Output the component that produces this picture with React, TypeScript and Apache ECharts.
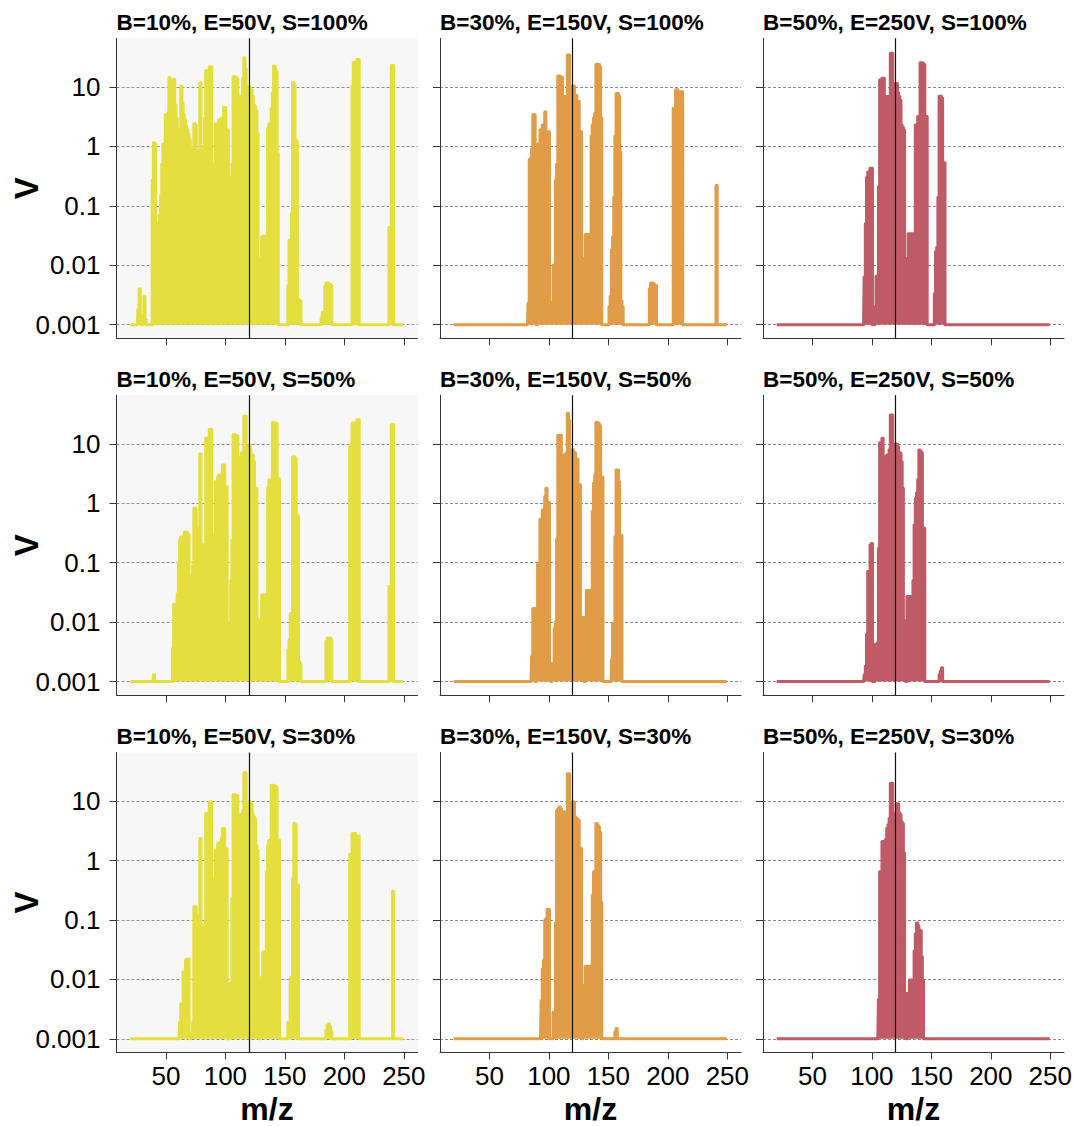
import React, { useEffect, useRef } from "react";
import * as echarts from "echarts";

// ---------- data ----------
const MZ_START = 20;
const MZ_END = 250;
const BASELINE = 0.001;
const MARKER_MZ = 120;
const X_TICK_MIN = 50;
const X_TICK_MAX = 250;
const X_TICK_STEP = 50;
const Y_TICK_LABELS = ["0.001", "0.01", "0.1", "1", "10"];
const COL_LABELS = ["B=10%, E=50V", "B=30%, E=150V", "B=50%, E=250V"];
const ROW_LABELS = ["S=100%", "S=50%", "S=30%"];
const COLORS = ["#e4df3f", "#e09c47", "#be5b67"];

// peaks: [m/z, V]; every other m/z sits on the 0.001 floor
const B10_S100: [number, number][] = [
  [27, 0.0018], [28, 0.004], [29, 0.0012], [31, 0.0014], [32, 0.003], [33, 0.0012],
  [39, 0.27], [40, 1.15], [41, 1.1], [42, 0.012], [43, 0.035], [44, 0.05], [45, 0.07], [46, 0.15],
  [47, 0.5], [48, 1.1], [49, 0.7], [50, 3.4], [51, 3.4], [52, 3.7], [53, 14.5], [54, 13.5], [55, 5],
  [56, 3.4], [57, 13.5], [58, 5], [59, 3], [60, 2], [61, 1.5], [62, 0.4], [63, 10.4], [64, 5.3],
  [65, 3.4], [66, 2.8], [67, 2.2], [68, 1.9], [69, 1.6], [70, 1.3], [71, 0.18], [72, 0.05], [73, 0.9],
  [74, 2.4], [75, 2.3], [76, 0.85], [77, 0.5], [78, 0.37], [79, 11.8], [80, 0.9], [81, 0.35], [82, 0.2],
  [83, 3], [84, 19], [85, 4], [86, 3], [87, 22], [88, 22], [89, 0.35], [90, 0.01], [91, 0.5], [92, 2.4],
  [93, 1.65], [94, 1.65], [95, 2.8], [96, 2.8], [97, 3], [98, 3], [99, 4.5], [100, 4.5], [101, 1.9],
  [102, 1.9], [103, 0.018], [104, 0.1], [105, 0.3], [106, 0.5], [107, 14.9], [108, 14.9], [109, 14],
  [110, 14], [111, 6], [112, 6], [113, 6.9], [114, 6.9], [115, 14], [116, 31], [117, 20], [118, 6.9],
  [119, 6], [120, 10], [121, 9], [122, 9], [123, 7], [124, 5], [125, 4.7], [126, 4], [127, 1.65],
  [128, 0.013], [129, 0.01], [130, 0.012], [131, 0.03], [132, 0.031], [133, 0.031], [134, 0.03],
  [135, 0.03], [136, 2.0], [137, 2.4], [138, 2.4], [139, 4.4], [140, 8], [141, 22.6], [142, 22],
  [143, 18], [144, 0.76],
  [153, 0.0045], [154, 0.026], [155, 0.027], [156, 0.074], [157, 11.8], [158, 11], [159, 1.3],
  [160, 1.2], [161, 0.0027], [162, 0.0026], [163, 0.0025],
  [181, 0.0013], [182, 0.0016], [183, 0.0016], [184, 0.0044], [185, 0.005], [186, 0.005],
  [187, 0.0049], [188, 0.0048], [189, 0.0045],
  [207, 10.4], [208, 26], [209, 25], [210, 19], [211, 29], [212, 29],
  [238, 0.043], [239, 0.043], [240, 23], [241, 23],
];

const B30_S100: [number, number][] = [
  [83, 0.0023], [84, 0.6], [85, 0.63], [86, 0.92], [87, 3.4], [88, 3.4], [89, 0.0025],
  [91, 1.1], [92, 1.1], [93, 1.9], [94, 1.9], [95, 2.3], [96, 2.3], [97, 3.8], [98, 1.77], [99, 1.77],
  [100, 1.77], [101, 0.002], [102, 0.002], [103, 0.0024], [104, 0.01], [105, 0.01], [106, 0.27],
  [107, 0.5], [108, 15.3], [109, 15.3], [110, 14.6], [111, 14.6], [112, 6], [113, 6.9], [114, 6.9],
  [115, 6.9], [116, 34.6], [117, 34.6], [118, 6.9], [119, 6.9], [120, 10.4], [121, 10.4], [122, 7.3],
  [123, 7.3], [124, 5.7], [125, 5.7], [126, 1.77], [127, 1.77], [128, 0.013], [129, 0.002],
  [130, 0.012], [131, 0.033], [132, 0.033], [133, 0.033], [134, 0.033], [135, 0.033], [136, 1.5],
  [137, 2.3], [138, 3], [139, 3.6], [140, 24], [141, 24.4], [142, 24], [143, 22], [144, 3],
  [151, 0.002], [152, 0.003], [153, 0.018], [154, 0.03], [155, 0.14], [156, 1.5], [157, 7.8],
  [158, 7.8], [159, 7], [160, 0.81], [161, 0.0025], [162, 0.002],
  [185, 0.004], [186, 0.005], [187, 0.005], [188, 0.0049], [189, 0.0047], [190, 0.0045],
  [205, 4.4], [206, 4.4], [207, 9], [208, 9], [209, 5.7], [210, 5.7], [211, 8.3], [212, 8.3],
  [241, 0.22],
];

const B50_S100: [number, number][] = [
  [94, 0.0063], [95, 0.05], [96, 0.3], [97, 0.37], [98, 0.37], [99, 0.43], [100, 0.43],
  [103, 0.002], [104, 0.0065], [105, 0.0065], [106, 0.21], [107, 13.1], [108, 13.1], [109, 14],
  [110, 14], [111, 3.4], [112, 6.9], [113, 6.9], [114, 6.9], [115, 6.4], [116, 36.9], [117, 36.9],
  [118, 8.3], [119, 8.3], [120, 11.5], [121, 11.5], [122, 8], [123, 6.9], [124, 6], [125, 2.3],
  [126, 2.1], [127, 1.9], [128, 0.013], [129, 0.013], [130, 0.002], [131, 0.034], [132, 0.034],
  [133, 0.034], [134, 0.034], [135, 0.034], [136, 0.034], [137, 2.3], [138, 2.3], [139, 3.2],
  [140, 3.2], [141, 25.7], [142, 25.7], [143, 25], [144, 24], [145, 3.2], [146, 3.2],
  [153, 0.0033], [154, 0.017], [155, 0.02], [156, 0.14], [157, 7], [158, 7], [159, 6.5],
  [160, 0.53], [161, 0.53],
];

const B10_S50: [number, number][] = [
  [40, 0.0013],
  [56, 0.0036], [57, 0.02], [58, 0.02], [59, 0.012], [60, 0.03], [61, 0.1], [62, 0.24], [63, 0.27],
  [64, 0.27], [65, 0.25], [66, 0.33], [67, 0.33], [68, 0.32], [69, 0.3], [70, 0.05], [71, 0.03],
  [72, 0.06], [73, 0.09], [74, 0.83], [75, 0.83], [76, 0.3], [77, 0.38], [78, 0.38], [79, 6.8],
  [80, 0.2], [81, 0.2], [82, 0.2], [83, 0.2], [84, 12.4], [85, 12.4], [86, 1.0], [87, 17.7],
  [88, 17.7], [89, 0.1], [90, 0.0069], [91, 0.3], [92, 2.3], [93, 2.3], [94, 2.8], [95, 3.0],
  [96, 3.0], [97, 3.0], [98, 4.4], [99, 4.4], [100, 1.9], [101, 1.9], [102, 0.0012], [103, 0.002],
  [104, 0.0095], [105, 0.05], [106, 0.24], [107, 14.2], [108, 14.2], [109, 13.6], [110, 13.6],
  [111, 5.7], [112, 5.7], [113, 6], [114, 7], [115, 7], [116, 29.6], [117, 29.6], [118, 6],
  [119, 6], [120, 9.25], [121, 9], [122, 6.5], [123, 6.5], [124, 5], [125, 1.8], [126, 1.8],
  [127, 0.01], [128, 0.011], [129, 0.011], [130, 0.011], [131, 0.029], [132, 0.029], [133, 0.029],
  [134, 0.029], [135, 0.029], [136, 1.8], [137, 2.5], [138, 2.5], [139, 2.5], [140, 22.9],
  [141, 22.9], [142, 22], [143, 22], [144, 2.6], [145, 2.6],
  [153, 0.0034], [154, 0.005], [155, 0.014], [156, 0.014], [157, 6.1], [158, 6.1], [159, 5.5],
  [160, 0.64], [161, 0.6], [162, 0.0022], [163, 0.002],
  [185, 0.0047], [186, 0.0054], [187, 0.0054], [188, 0.0054], [189, 0.005],
  [205, 9.6], [206, 9.6], [207, 22.5], [208, 22.5], [209, 16], [210, 16], [211, 25.4], [212, 25.4],
  [238, 0.04], [239, 0.04], [240, 21.4], [241, 21.4],
];

const B30_S50: [number, number][] = [
  [86, 0.0027], [87, 0.017], [88, 0.017], [90, 0.003], [91, 0.095], [92, 0.1], [93, 0.54],
  [94, 0.54], [95, 0.77], [96, 0.8], [97, 1.3], [98, 1.8], [99, 1.03], [100, 1.03], [101, 0.002],
  [103, 0.002], [104, 0.0018], [105, 0.0078], [106, 0.01], [107, 0.25], [108, 14], [109, 14],
  [110, 14], [111, 4.5], [112, 6.5], [113, 6.5], [114, 6.5], [115, 7], [116, 32.8], [117, 25],
  [118, 7.7], [119, 7.5], [120, 8], [121, 7.4], [122, 7], [123, 5.7], [124, 5.5], [125, 2.05],
  [126, 2.05], [127, 0.002], [128, 0.005], [129, 0.012], [131, 0.012], [132, 0.034], [133, 0.034],
  [134, 0.034], [135, 0.034], [136, 0.034], [137, 0.73], [138, 2.18], [139, 3], [140, 23],
  [141, 23], [142, 22], [143, 20], [144, 2.75], [145, 2.75],
  [153, 0.0023], [154, 0.0095], [155, 0.0095], [156, 0.275], [157, 3.65], [158, 3.65], [159, 2.3],
  [160, 0.29], [161, 0.29],
];

const B50_S50: [number, number][] = [
  [94, 0.0013], [95, 0.0018], [96, 0.0063], [97, 0.071], [98, 0.071], [99, 0.2], [100, 0.21],
  [103, 0.0042], [104, 0.0042], [105, 0.0045], [106, 0.175], [107, 10.5], [108, 10.5], [109, 12.4],
  [110, 6.1], [111, 3.2], [112, 5], [113, 6.5], [114, 6.5], [115, 8], [116, 30.7], [117, 30.7],
  [118, 6.5], [119, 6.5], [120, 10], [121, 10], [122, 9], [123, 7.1], [124, 7], [125, 5], [126, 1.8],
  [127, 0.0106], [128, 0.0106], [130, 0.027], [131, 0.027], [132, 0.027], [133, 0.027],
  [134, 0.027], [135, 0.05], [136, 0.43], [137, 1.2], [138, 1.5], [139, 2.5], [140, 7.9], [141, 7.5],
  [142, 7], [143, 0.38], [144, 0.38],
  [157, 0.0013], [158, 0.0015], [159, 0.0017],
];

const B10_S30: [number, number][] = [
  [62, 0.0019], [63, 0.0039], [64, 0.0039], [65, 0.0135], [66, 0.0135], [67, 0.021], [68, 0.022],
  [69, 0.022], [71, 0.0012], [72, 0.0012], [73, 0.0019], [74, 0.167], [75, 0.167], [76, 0.113],
  [77, 0.12], [78, 0.1], [79, 2.36], [80, 0.082], [81, 0.082], [82, 0.082], [83, 0.082], [84, 6.2],
  [85, 6.2], [86, 0.5], [87, 9.7], [88, 9.7], [89, 0.05], [90, 0.0042], [91, 0.5], [92, 1.5],
  [93, 1.5], [94, 1.94], [95, 2], [96, 2], [97, 2.4], [98, 3.47], [99, 3.47], [100, 1.58],
  [101, 1.58], [104, 0.0085], [105, 0.0085], [106, 0.23], [107, 12.9], [108, 12.9], [109, 12.5],
  [110, 12.5], [111, 5.8], [112, 5.8], [113, 6], [114, 6], [115, 7], [116, 30], [117, 30], [118, 6],
  [119, 6], [120, 9.7], [121, 9.7], [122, 9], [123, 6], [124, 5.5], [125, 5], [126, 1.8], [127, 1.5],
  [128, 0.0107], [130, 0.0107], [131, 0.0107], [132, 0.029], [133, 0.029], [134, 0.029],
  [135, 0.65], [136, 1.8], [137, 2.2], [138, 2.2], [139, 18.6], [140, 18.6], [141, 18], [142, 18],
  [143, 17], [144, 2.2], [145, 2.2],
  [153, 0.0019], [154, 0.0019], [155, 0.0107], [156, 0.0107], [157, 0.5], [158, 4.2], [159, 4.0],
  [160, 0.39], [161, 0.39],
  [185, 0.0014], [186, 0.0017], [187, 0.0018], [188, 0.0016], [189, 0.0013],
  [205, 1.28], [206, 1.28], [207, 2.86], [208, 2.86], [209, 2.86], [210, 1.5], [211, 2.6], [212, 2.6],
  [241, 0.305],
];

const B30_S30: [number, number][] = [
  [94, 0.0044], [95, 0.015], [96, 0.021], [97, 0.1], [98, 0.106], [99, 0.15], [100, 0.15],
  [104, 0.0028], [105, 0.0028], [106, 0.089], [107, 7], [108, 7.5], [109, 8], [110, 7.5], [111, 4.8],
  [112, 6.6], [113, 6.6], [114, 4.6], [115, 4.6], [116, 29], [117, 29], [118, 6.6], [119, 6.5],
  [120, 9.7], [121, 9.7], [122, 5.5], [123, 5.2], [124, 5], [125, 4.8], [126, 1.6], [127, 1.6],
  [129, 0.0079], [130, 0.0079], [131, 0.0167], [132, 0.0167], [133, 0.0167], [134, 0.0167],
  [135, 0.0167], [136, 0.0167], [137, 0.26], [138, 0.65], [139, 0.65], [140, 4.2], [141, 4],
  [142, 3.7], [143, 3], [144, 0.2],
  [156, 0.0013], [157, 0.0015],
];

const B50_S30: [number, number][] = [
  [106, 0.0046], [107, 0.65], [108, 0.65], [109, 2.1], [110, 2.1], [111, 2.0], [112, 2.3],
  [113, 3.5], [114, 4.0], [115, 5.1], [116, 20], [117, 20], [118, 4.5], [119, 5], [120, 6.2],
  [121, 9.1], [122, 9.1], [123, 6.4], [124, 6], [125, 4.5], [126, 4.2], [127, 1.35], [128, 0.0058],
  [130, 0.0058], [131, 0.0058], [132, 0.0098], [133, 0.0098], [134, 0.0098], [135, 0.0058],
  [136, 0.03], [137, 0.059], [138, 0.089], [139, 0.08], [140, 0.068], [141, 0.066], [142, 0.024],
  [143, 0.0098],
];

// row-major: rows = S (100, 50, 30), cols = B/E (10/50, 30/150, 50/250)
const PANELS = [B10_S100, B30_S100, B50_S100, B10_S50, B30_S50, B50_S50, B10_S30, B30_S30, B50_S30];

// ---------- layout ----------
const COL_LEFT = [116.5, 440, 763];
const ROW_TOP = [38.3, 395.2, 752.5];
const PANEL_W = 301;
const PANEL_H = 300;
const X_MIN = 8.5;
const X_MAX = 261.5;
const LOG_MIN = -3.23;
const LOG_MAX = 1.82;
const FONT = "'Liberation Sans', Arial, Helvetica, sans-serif";

function buildSeries(peaks: [number, number][]): [number, number][] {
  const lookup = new Map<number, number>(peaks);
  const out: [number, number][] = [];
  for (let mz = MZ_START; mz <= MZ_END; mz++) {
    out.push([mz, lookup.has(mz) ? (lookup.get(mz) as number) : BASELINE]);
  }
  return out;
}

function buildOption() {
  const kx = PANEL_W / (X_MAX - X_MIN);
  const ky = PANEL_H / (LOG_MAX - LOG_MIN);
  const grid: any[] = [];
  const xAxis: any[] = [];
  const yAxis: any[] = [];
  const series: any[] = [];
  const title: any[] = [];
  const graphic: any[] = [];
  const axisLineStyle = { color: "#333", width: 1 };

  PANELS.forEach((peaks, i) => {
    const r = Math.floor(i / 3);
    const c = i % 3;
    const left = COL_LEFT[c];
    const top = ROW_TOP[r];
    const g = i * 3;

    grid.push({
      left, top, width: PANEL_W, height: PANEL_H,
      show: c === 0, backgroundColor: "#f7f7f7", borderWidth: 0,
    });
    grid.push({
      left: left + (X_TICK_MIN - X_MIN) * kx, top,
      width: (X_TICK_MAX - X_TICK_MIN) * kx, height: PANEL_H,
    });
    grid.push({
      left, top: top + (LOG_MAX - 1) * ky, width: PANEL_W, height: 4 * ky,
    });

    xAxis.push({
      gridIndex: g, type: "value", min: X_MIN, max: X_MAX,
      axisLine: { show: true, onZero: false, lineStyle: axisLineStyle },
      axisTick: { show: false }, axisLabel: { show: false }, splitLine: { show: false },
    });
    yAxis.push({
      gridIndex: g, type: "log", logBase: 10,
      min: Math.pow(10, LOG_MIN), max: Math.pow(10, LOG_MAX),
      axisLine: { show: true, onZero: false, lineStyle: axisLineStyle },
      axisTick: { show: false }, axisLabel: { show: false }, splitLine: { show: false },
      minorTick: { show: false }, minorSplitLine: { show: false },
    });

    xAxis.push({
      gridIndex: g + 1, type: "value", min: X_TICK_MIN, max: X_TICK_MAX, interval: X_TICK_STEP,
      axisLine: { show: false },
      axisTick: { show: true, length: 7, lineStyle: { color: "#333", width: 1 } },
      axisLabel: { show: r === 2, fontSize: 26, color: "#000", margin: 10, fontFamily: FONT },
      splitLine: { show: false },
    });
    yAxis.push({ gridIndex: g + 1, type: "value", show: false, min: 0, max: 1 });

    xAxis.push({ gridIndex: g + 2, type: "value", show: false, min: 0, max: 1 });
    yAxis.push({
      gridIndex: g + 2, type: "value", min: -3, max: 1, interval: 1,
      axisLine: { show: false },
      axisTick: { show: true, length: 7, lineStyle: { color: "#333", width: 1 } },
      axisLabel: {
        show: c === 0, fontSize: 26, color: "#000", margin: 16, fontFamily: FONT,
        formatter: (v: number) => Y_TICK_LABELS[Math.round(v) + 3],
      },
      splitLine: { show: true, lineStyle: { color: "#8c8c8c", width: 1, type: [3, 2] } },
    });

    series.push({
      type: "line", xAxisIndex: g, yAxisIndex: g,
      data: buildSeries(peaks),
      step: "middle",
      symbol: "none", showSymbol: false, smooth: false,
      lineStyle: { color: COLORS[c], width: 3, join: "round", cap: "butt" },
      areaStyle: { color: COLORS[c], opacity: 1, origin: BASELINE },
      itemStyle: { color: COLORS[c] },
      z: 3,
      markLine: {
        silent: true, symbol: ["none", "none"], label: { show: false },
        lineStyle: { color: "#111", width: 1.2, type: "solid" },
        data: [{ xAxis: MARKER_MZ }],
        z: 5,
      },
    });

    title.push({
      text: `${COL_LABELS[c]}, ${ROW_LABELS[r]}`,
      left, top: top - 27.5, padding: 0,
      textStyle: { fontSize: 22.5, fontWeight: "bold", color: "#000", fontFamily: FONT },
    });
  });

  ROW_TOP.forEach((top) => {
    graphic.push({
      type: "text", x: 26, y: top + PANEL_H / 2, rotation: Math.PI / 2,
      style: {
        text: "V", fontSize: 33, fontWeight: "bold", fontFamily: FONT, fill: "#000",
        textAlign: "center", textVerticalAlign: "middle", align: "center", verticalAlign: "middle",
      },
    });
  });
  COL_LEFT.forEach((left) => {
    graphic.push({
      type: "text", x: left + PANEL_W / 2, y: 1109,
      style: {
        text: "m/z", fontSize: 32, fontWeight: "bold", fontFamily: FONT, fill: "#000",
        textAlign: "center", textVerticalAlign: "middle", align: "center", verticalAlign: "middle",
      },
    });
  });

  return {
    animation: false,
    backgroundColor: "#ffffff",
    textStyle: { fontFamily: FONT },
    title, grid, xAxis, yAxis, series, graphic,
  };
}

export default function App() {
  const ref = useRef<HTMLDivElement | null>(null);
  useEffect(() => {
    document.body.style.margin = "0";
    if (!ref.current) return;
    const chart = echarts.init(ref.current, undefined, { renderer: "svg" });
    chart.setOption(buildOption() as any);
    return () => chart.dispose();
  }, []);
  return (
    <div
      ref={ref}
      style={{ position: "absolute", left: 0, top: 0, width: 1075, height: 1126 }}
    />
  );
}
